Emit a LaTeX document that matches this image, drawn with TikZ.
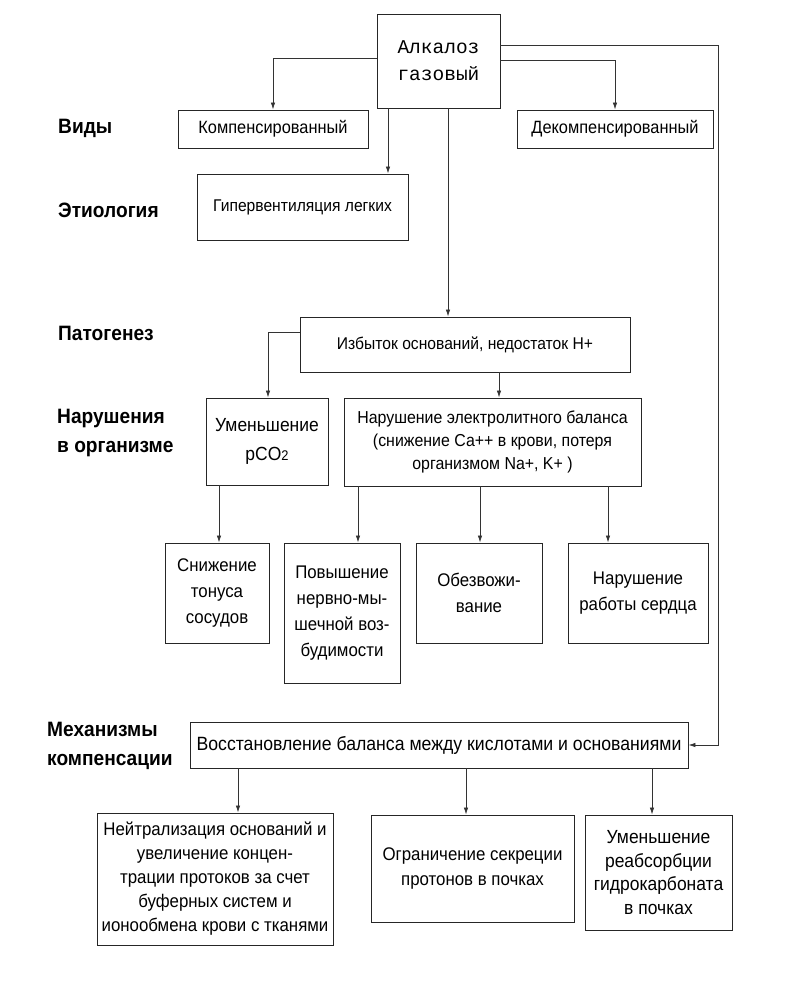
\documentclass[tikz,border=0pt]{standalone}
\usepackage{fontspec}
\setmainfont[FakeStretch=0.92]{Liberation Sans}
\newfontfamily\monof{Liberation Mono}
\usetikzlibrary{arrows.meta}
\newcommand{\fz}[2]{\fontsize{#1}{#2}\selectfont}
\begin{document}
\begin{tikzpicture}[x=1pt,y=-1pt,
  box/.style={draw=black!85, line width=0.9pt, inner sep=2pt, align=center, anchor=center,
    font=\fz{17}{23}},
  big/.style={font=\fz{18.3}{26}},
  arr/.style={draw=black!80, line width=0.8pt, -{Latex[length=7pt,width=4.5pt]}},
  lab/.style={font=\bfseries\fz{20.8}{28.5}, align=left, anchor=west, inner sep=0pt}]
\useasboundingbox (0,0) rectangle (801,982);
% boxes
\node[box, minimum width=123pt, minimum height=94pt, font=\monof\fz{19.5}{27}] (alk) at (438.5,61) {Алкалоз\\газовый};
\node[box, minimum width=190pt, minimum height=38pt, font=\fz{17.8}{22}] (komp) at (273,129) {Компенсированный};
\node[box, minimum width=196pt, minimum height=38pt, font=\fz{17.8}{22}] (dek) at (615,129) {Декомпенсированный};
\node[box, minimum width=211pt, minimum height=66pt] (hyp) at (302.5,207) {Гипервентиляция легких};
\node[box, minimum width=330pt, minimum height=55pt] (izb) at (465,344.5) {Избыток оснований, недостаток Н+};
\node[box, minimum width=122pt, minimum height=87pt, font=\fz{19}{29}] (umen) at (267,441.5) {Уменьшение\\pCO{\fz{14}{14}2}};
\node[box, minimum width=297pt, minimum height=88pt, font=\fz{17.3}{23}] (nar) at (492.5,442) {Нарушение электролитного баланса\\(снижение Са++ в крови, потеря\\организмом Na+, K+ )};
\node[box, big, minimum width=104pt, minimum height=100pt] (sni) at (217,593) {Снижение\\тонуса\\сосудов};
\node[box, big, minimum width=116pt, minimum height=140pt] (pov) at (342,613) {Повышение\\нервно-мы-\\шечной воз-\\будимости};
\node[box, big, minimum width=126pt, minimum height=100pt] (obe) at (479,593) {Обезвожи-\\вание};
\node[box, big, minimum width=140pt, minimum height=100pt] (nrs) at (638,593) {Нарушение\\работы сердца};
\node[box, minimum width=498pt, minimum height=46pt, font=\fz{19.2}{24}] (vos) at (439,745) {Восстановление баланса между кислотами и основаниями};
\node[box, minimum width=236pt, minimum height=132pt, font=\fz{18.3}{24}] (neu) at (215,879) {Нейтрализация оснований и\\увеличение концен-\\трации протоков за счет\\буферных систем и\\ионообмена крови с тканями};
\node[box, minimum width=203pt, minimum height=107pt, font=\fz{18.3}{25}] (ogr) at (472.5,868.5) {Ограничение секреции\\протонов в почках};
\node[box, minimum width=147pt, minimum height=115pt, font=\fz{19}{23.5}] (umr) at (658.5,872.5) {Уменьшение\\реабсорбции\\гидрокарбоната\\в почках};
% labels
\node[lab] (l1) at (58,128) {Виды};
\node[lab] (l2) at (58,210) {Этиология};
\node[lab] (l3) at (58,333) {Патогенез};
\node[lab] (l4) at (57,433) {Нарушения\\в организме};
\node[lab] (l5) at (47,746) {Механизмы\\компенсации};
% helper coordinates
\coordinate (xA) at (388,0);
\coordinate (xB) at (448,0);
\coordinate (xC) at (499,0);
\coordinate (xD) at (219,0);
\coordinate (xE) at (358,0);
\coordinate (xF) at (480,0);
\coordinate (xG) at (608,0);
\coordinate (xH) at (238,0);
\coordinate (xI) at (466,0);
\coordinate (xJ) at (652,0);
\coordinate (xK) at (268,0);
\coordinate (cR) at (718,400);
% connectors
\draw[arr] ([yshift=3pt]alk.west) -| (komp.north);
\draw[arr] ([yshift=1pt]alk.east) -| (dek.north);
\draw[arr] ([yshift=16pt]alk.east) -| (cR) |- (vos.east);
\draw[arr] (alk.south -| xA) -- (hyp.north -| xA);
\draw[arr] (alk.south -| xB) -- (izb.north -| xB);
\draw[arr] ([yshift=12pt]izb.west) -| (umen.north -| xK);
\draw[arr] (izb.south -| xC) -- (nar.north -| xC);
\draw[arr] (umen.south -| xD) -- (sni.north -| xD);
\draw[arr] (nar.south -| xE) -- (pov.north -| xE);
\draw[arr] (nar.south -| xF) -- (obe.north -| xF);
\draw[arr] (nar.south -| xG) -- (nrs.north -| xG);
\draw[arr] (vos.south -| xH) -- (neu.north -| xH);
\draw[arr] (vos.south -| xI) -- (ogr.north -| xI);
\draw[arr] (vos.south -| xJ) -- (umr.north -| xJ);
\end{tikzpicture}
\end{document}
